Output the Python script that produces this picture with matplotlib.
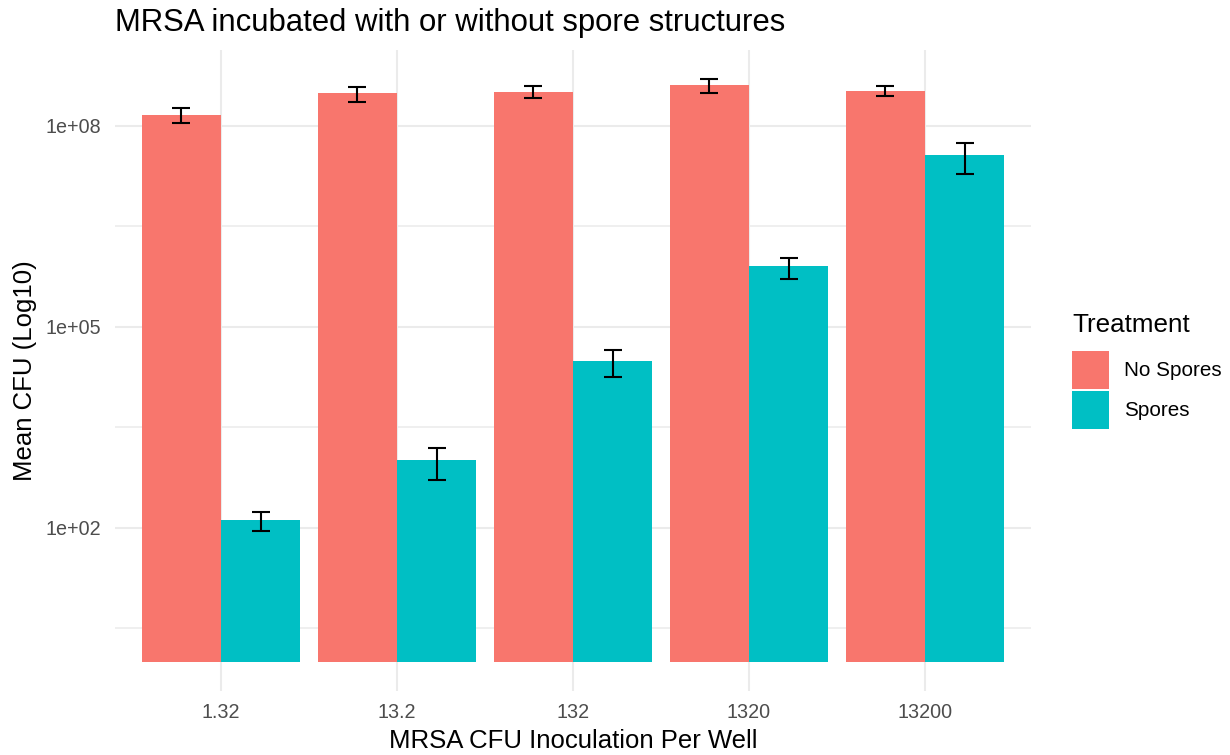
import numpy as np
import matplotlib
matplotlib.use("Agg")
import matplotlib.pyplot as plt

# MRSA CFU per well (x categories) and mean CFU +/- SD per treatment
inoculation = ["1.32", "13.2", "132", "1320", "13200"]
treatments = ["No Spores", "Spores"]
no_spores_mean = [1.46e8, 3.01e8, 3.21e8, 3.99e8, 3.33e8]
no_spores_sd = [3.8e7, 7.3e7, 6.6e7, 9.0e7, 5.4e7]
spores_mean = [131.5, 1035, 31100, 7.94e5, 3.69e7]
spores_sd = [41, 520, 13100, 2.8e5, 1.78e7]

colors = ["#F8766D", "#00BFC4"]
grid_color = "#EBEBEB"

plt.rcParams["font.family"] = ["Liberation Sans", "DejaVu Sans"]

fig = plt.figure(figsize=(12.3, 7.55), dpi=100)
ax = fig.add_axes([115.4 / 1230, 1 - 691 / 755, 915.2 / 1230, 640.8 / 755])

x = np.arange(len(inoculation))
dodge = 0.45
series = [(no_spores_mean, no_spores_sd), (spores_mean, spores_sd)]
for k, (means, sds) in enumerate(series):
    means = np.asarray(means, dtype=float)
    sds = np.asarray(sds, dtype=float)
    pos = x + (k - 0.5) * dodge
    # bars start at 1 (log10 = 0), as ggplot does on a log scale
    ax.bar(pos, means - 1, bottom=1, width=dodge, color=colors[k],
           edgecolor="none", label=treatments[k], zorder=2)
    ax.errorbar(pos, means, yerr=sds, fmt="none", ecolor="black",
                elinewidth=1.5, capsize=6.3, capthick=1.5, zorder=3)

ax.set_yscale("log")
all_top = np.concatenate([np.add(no_spores_mean, no_spores_sd),
                          np.add(spores_mean, spores_sd)])
top = np.log10(all_top.max())
span = top - 0.0
ax.set_ylim(10 ** (-0.05 * span), 10 ** (top + 0.05 * span))
ax.set_xlim(-0.6, len(inoculation) - 1 + 0.6)

ax.set_yticks([1e2, 1e5, 1e8])
ax.set_yticklabels(["1e+02", "1e+05", "1e+08"])
ax.set_yticks([10 ** 0.5, 10 ** 3.5, 10 ** 6.5], minor=True)
ax.yaxis.set_minor_formatter(matplotlib.ticker.NullFormatter())
ax.set_xticks(x)
ax.set_xticklabels(inoculation)

ax.grid(True, which="major", color=grid_color, linewidth=1.5, zorder=0)
ax.grid(True, which="minor", axis="y", color=grid_color, linewidth=1.1, zorder=0)
ax.set_axisbelow(True)
for s in ax.spines.values():
    s.set_visible(False)
ax.tick_params(axis="both", which="both", length=0, labelsize=14.2,
               labelcolor="#4D4D4D")
ax.tick_params(axis="x", pad=9)
ax.tick_params(axis="y", pad=10.5)

ax.set_xlabel("MRSA CFU Inoculation Per Well", fontsize=18.5)
ax.set_ylabel("Mean CFU (Log10)", fontsize=18.5)
ax.xaxis.label.set(va="center", ha="center")
ax.yaxis.label.set(va="center", ha="center")
ax.xaxis.set_label_coords(0.5, (691 - 741) / 640.8)
ax.yaxis.set_label_coords((25 - 115.4) / 915.2, 0.5)

ax.set_title("MRSA incubated with or without spore structures",
             loc="left", fontsize=22.4, pad=13.5)

fig.text(1072 / 1230, 1 - 325 / 755, "Treatment", fontsize=18.7,
         ha="left", va="center")
leg = ax.legend(loc="upper left", bbox_to_anchor=(1072 / 1230, 1 - 350.7 / 755),
                bbox_transform=fig.transFigure, frameon=False, fontsize=14.9,
                handlelength=1.81, handleheight=2.45, labelspacing=0.1,
                handletextpad=0.72, borderpad=0, borderaxespad=0)

fig.savefig("out.png", dpi=100)
